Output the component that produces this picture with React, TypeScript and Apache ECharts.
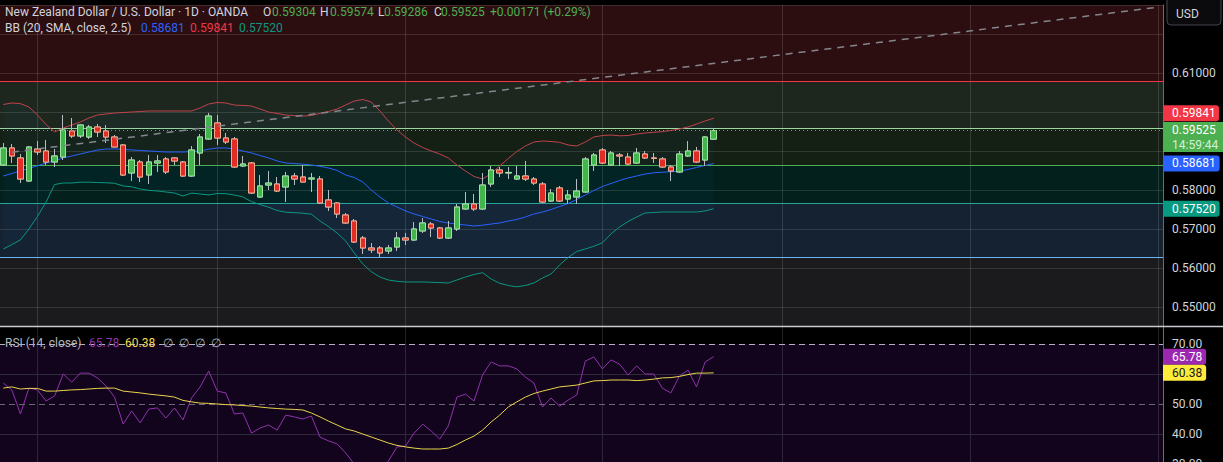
import React, { useEffect, useRef } from 'react';
import * as echarts from 'echarts';

const FONT = 'Roboto, "Liberation Sans", sans-serif';

// ---------- x slots (84 traded days + empty future space) ----------
const SLOT_COUNT = 136;
const categories: string[] = Array.from({ length: SLOT_COUNT }, (_, i) => `D${i + 1}`);
const monthLineDays = ['D5', 'D26', 'D48', 'D71', 'D92', 'D114', 'D136'];

// ---------- candles ----------
const candleOpen = [
  0.58641, 0.59077, 0.58821, 0.58231, 0.59051, 0.59000, 0.58718, 0.58846, 0.59513, 0.59385,
  0.59359, 0.59615, 0.59513, 0.59359, 0.59154, 0.58436, 0.58718, 0.58385, 0.58692, 0.58795,
  0.58821, 0.58718, 0.58359, 0.58949, 0.59308, 0.59718, 0.59333, 0.59308, 0.58615, 0.58692,
  0.57821, 0.58128, 0.58154, 0.58077, 0.58359, 0.58333, 0.58282, 0.58282, 0.57744, 0.57667,
  0.57359, 0.57205, 0.56769, 0.56513, 0.56513, 0.56436, 0.56538, 0.56769, 0.56718, 0.56949,
  0.57128, 0.57026, 0.56769, 0.57000, 0.57513, 0.57641, 0.57513, 0.58154, 0.58513, 0.58436,
  0.58282, 0.58359, 0.58282, 0.58154, 0.57718, 0.58051, 0.57769, 0.57821, 0.57949, 0.58641,
  0.59026, 0.58641, 0.58897, 0.58846, 0.58692, 0.58923, 0.58821, 0.58795, 0.58590, 0.58462,
  0.58872, 0.59000, 0.58769, 0.59304,
];
const candleClose = [
  0.59077, 0.58872, 0.58282, 0.59103, 0.58974, 0.58718, 0.58872, 0.59538, 0.59385, 0.59667,
  0.59615, 0.59487, 0.59359, 0.59103, 0.58385, 0.58769, 0.58333, 0.58718, 0.58744, 0.58462,
  0.58744, 0.58359, 0.59026, 0.59359, 0.59897, 0.59333, 0.59231, 0.58590, 0.58667, 0.57923,
  0.58103, 0.58179, 0.57974, 0.58359, 0.58282, 0.58205, 0.58308, 0.57667, 0.57564, 0.57385,
  0.57154, 0.56667, 0.56513, 0.56462, 0.56385, 0.56513, 0.56769, 0.56718, 0.57000, 0.57154,
  0.57026, 0.56769, 0.57026, 0.57564, 0.57641, 0.57513, 0.58128, 0.58513, 0.58436, 0.58450,
  0.58359, 0.58282, 0.58179, 0.57692, 0.57923, 0.57718, 0.57872, 0.57974, 0.58795, 0.58897,
  0.58692, 0.58949, 0.58872, 0.58667, 0.58949, 0.58821, 0.58810, 0.58590, 0.58487, 0.58923,
  0.59000, 0.58718, 0.59359, 0.59525,
];
const candleLow = [
  0.58615, 0.58692, 0.58179, 0.58205, 0.58897, 0.58641, 0.58590, 0.58769, 0.59333, 0.59333,
  0.59308, 0.59359, 0.59205, 0.59103, 0.58359, 0.58231, 0.58205, 0.58154, 0.58462, 0.58410,
  0.58641, 0.58333, 0.58333, 0.58641, 0.59282, 0.59154, 0.59179, 0.58564, 0.58590, 0.57897,
  0.57795, 0.58000, 0.57949, 0.57692, 0.58128, 0.58205, 0.57949, 0.57641, 0.57462, 0.57282,
  0.57128, 0.56641, 0.56359, 0.56385, 0.56282, 0.56359, 0.56436, 0.56590, 0.56692, 0.56897,
  0.56795, 0.56744, 0.56744, 0.56949, 0.57487, 0.57462, 0.57487, 0.58077, 0.58333, 0.58282,
  0.58256, 0.58231, 0.58128, 0.57667, 0.57692, 0.57692, 0.57641, 0.57641, 0.57923, 0.58487,
  0.58667, 0.58615, 0.58615, 0.58641, 0.58667, 0.58795, 0.58692, 0.58564, 0.58231, 0.58436,
  0.58846, 0.58692, 0.58615, 0.59286,
];
const candleHigh = [
  0.59205, 0.59179, 0.58923, 0.59128, 0.59256, 0.59282, 0.59051, 0.59923, 0.59846, 0.59680,
  0.59667, 0.59692, 0.59667, 0.59410, 0.59179, 0.58846, 0.58769, 0.58897, 0.58897, 0.58846,
  0.58846, 0.58744, 0.59128, 0.59436, 0.59974, 0.59923, 0.59462, 0.59359, 0.58872, 0.58718,
  0.58385, 0.58487, 0.58333, 0.58462, 0.58436, 0.58641, 0.58436, 0.58359, 0.58000, 0.57692,
  0.57410, 0.57256, 0.56821, 0.56641, 0.56564, 0.56590, 0.56923, 0.56897, 0.57179, 0.57282,
  0.57179, 0.57051, 0.57205, 0.57641, 0.57949, 0.57897, 0.58436, 0.58615, 0.58590, 0.58590,
  0.58615, 0.58744, 0.58333, 0.58205, 0.58026, 0.58103, 0.58000, 0.58282, 0.58846, 0.58949,
  0.59077, 0.59000, 0.58949, 0.58949, 0.59077, 0.59000, 0.58949, 0.58846, 0.58641, 0.59000,
  0.59256, 0.59103, 0.59385, 0.59574,
];

// ---------- Bollinger bands ----------
const bbUpper = [
  0.60192, 0.60231, 0.60215, 0.60128, 0.59923, 0.59679, 0.59487, 0.59590, 0.59667, 0.59744,
  0.59846, 0.59923, 0.59949, 0.59974, 0.59987, 0.60000, 0.60013, 0.60026, 0.60026, 0.60026,
  0.60026, 0.60026, 0.60026, 0.60103, 0.60205, 0.60244, 0.60231, 0.60179, 0.60167, 0.60154,
  0.60077, 0.60000, 0.59962, 0.59923, 0.59910, 0.59897, 0.59910, 0.59962, 0.60013, 0.60077,
  0.60179, 0.60282, 0.60321, 0.60256, 0.60026, 0.59769, 0.59538, 0.59359, 0.59205, 0.59090,
  0.59000, 0.58923, 0.58821, 0.58641, 0.58487, 0.58346, 0.58282, 0.58423, 0.58615, 0.58808,
  0.58987, 0.59128, 0.59231, 0.59256, 0.59244, 0.59223, 0.59154, 0.59128, 0.59231, 0.59359,
  0.59397, 0.59410, 0.59390, 0.59397, 0.59436, 0.59462, 0.59479, 0.59497, 0.59526, 0.59564,
  0.59615, 0.59692, 0.59769, 0.59841,
];
const bbBasis = [
  0.58359, 0.58423, 0.58487, 0.58551, 0.58623, 0.58692, 0.58754, 0.58821, 0.58872, 0.58923,
  0.58974, 0.59026, 0.59051, 0.59051, 0.59044, 0.59026, 0.59015, 0.59000, 0.58987, 0.58974,
  0.58974, 0.58974, 0.58987, 0.59000, 0.59046, 0.59077, 0.59077, 0.59051, 0.59000, 0.58949,
  0.58885, 0.58821, 0.58744, 0.58692, 0.58677, 0.58662, 0.58641, 0.58608, 0.58564, 0.58500,
  0.58385, 0.58321, 0.58205, 0.58000, 0.57821, 0.57667, 0.57564, 0.57462, 0.57385, 0.57321,
  0.57256, 0.57192, 0.57154, 0.57128, 0.57103, 0.57077, 0.57097, 0.57128, 0.57154, 0.57205,
  0.57244, 0.57308, 0.57385, 0.57436, 0.57500, 0.57577, 0.57654, 0.57756, 0.57872, 0.57987,
  0.58090, 0.58167, 0.58244, 0.58308, 0.58359, 0.58410, 0.58441, 0.58456, 0.58469, 0.58482,
  0.58526, 0.58577, 0.58628, 0.58681,
];
const bbLower = [
  0.56487, 0.56600, 0.56718, 0.57000, 0.57321, 0.57692, 0.58141, 0.58179, 0.58179, 0.58200,
  0.58200, 0.58192, 0.58185, 0.58172, 0.58103, 0.58082, 0.58026, 0.57990, 0.57974, 0.57949,
  0.57923, 0.57846, 0.57921, 0.57897, 0.57874, 0.57910, 0.57905, 0.57872, 0.57821, 0.57703,
  0.57626, 0.57559, 0.57474, 0.57431, 0.57418, 0.57405, 0.57379, 0.57205, 0.57064, 0.56897,
  0.56692, 0.56385, 0.56103, 0.55905, 0.55769, 0.55692, 0.55659, 0.55641, 0.55641, 0.55641,
  0.55633, 0.55626, 0.55615, 0.55692, 0.55769, 0.55833, 0.55879, 0.55718, 0.55608, 0.55551,
  0.55518, 0.55551, 0.55615, 0.55744, 0.55846, 0.56077, 0.56269, 0.56423, 0.56487, 0.56556,
  0.56646, 0.56872, 0.57051, 0.57192, 0.57308, 0.57410, 0.57423, 0.57436, 0.57436, 0.57436,
  0.57436, 0.57436, 0.57462, 0.57520,
];

// ---------- RSI ----------
const rsiValues = [
  57.0, 54.7, 46.7, 55.3, 54.7, 51.0, 52.7, 60.0, 57.3, 60.3,
  60.3, 58.7, 56.0, 52.3, 43.3, 47.7, 43.7, 48.3, 48.7, 45.3,
  48.7, 44.7, 52.0, 55.7, 61.0, 54.3, 53.7, 46.7, 47.0, 40.3,
  42.0, 43.0, 41.3, 46.3, 45.7, 45.0, 46.0, 39.0, 37.7, 36.7,
  33.7, 30.0, 27.5, 26.0, 27.0, 31.0, 35.7, 36.0, 40.3, 43.3,
  41.0, 38.3, 42.7, 52.3, 53.3, 51.0, 59.7, 64.0, 62.7, 62.7,
  61.7, 59.0, 57.0, 49.0, 52.0, 49.3, 51.3, 53.0, 64.3, 65.7,
  61.7, 64.7, 63.3, 59.7, 62.7, 60.0, 60.0, 55.3, 53.7, 59.3,
  61.3, 55.7, 64.0, 65.78,
];
const rsiMa = [
  55.3, 55.7, 55.0, 55.2, 55.2, 54.3, 54.3, 54.5, 54.7, 54.8,
  55.0, 55.2, 55.3, 55.3, 54.3, 54.0, 53.7, 53.3, 53.0, 52.7,
  52.3, 51.2, 50.7, 50.3, 50.2, 50.0, 49.8, 49.7, 49.5, 49.3,
  49.0, 48.7, 48.5, 48.3, 48.2, 48.0, 47.0, 45.7, 44.3, 43.0,
  41.7, 41.0, 40.0, 39.0, 38.0, 37.0, 36.2, 35.7, 35.3, 35.0,
  35.0, 35.0, 35.3, 36.5, 38.0, 39.3, 41.3, 44.0, 46.3, 49.0,
  50.7, 52.3, 53.5, 54.3, 55.0, 55.7, 56.0, 56.3, 57.0, 57.7,
  57.8, 58.0, 58.0, 58.0, 57.8, 58.0, 58.3, 58.7, 58.8, 59.2,
  59.8, 60.3, 60.3, 60.38,
];

// ---------- levels & axis ranges ----------
const PRICE_MIN = 0.545128;
const PRICE_MAX = 0.627436;
const RSI_MIN = 20;
const RSI_MAX = 75.667;
const bandLevels = [0.60795, 0.5959, 0.58641, 0.57667, 0.56282];
const bandLineColors = ['#f23645', '#9ed8a0', '#4caf50', '#26a69a', '#6db4f5'];
const bandFillColors = ['#2c0e11', '#1d271d', '#142014', '#03201c', '#152231', '#1b1b1d'];
const trendStart = ['D2', 0.58969];
const trendEnd = ['D136', 0.62692];
const rsiSolidLevels = [60, 40, 30];
const rsiDashedLevels = [70, 50];
// axis labels hidden behind the price tags in the reference
const hiddenPriceLabels = ['0.60000', '0.59000'];
const hiddenRsiLabels = ['60.00'];

// ---------- legend / tag texts ----------
const lastPrice = 0.59525;
const countdown = '14:59:44';
const title = 'New Zealand Dollar / U.S. Dollar · 1D · OANDA';
const ohlcLetters = ['O', 'H', 'L', 'C'];
const ohlcValues = ['0.59304', '0.59574', '0.59286', '0.59525'];
const changeText = '+0.00171 (+0.29%)';
const bbTitle = 'BB (20, SMA, close, 2.5)';
const bbValues = ['0.58681', '0.59841', '0.57520'];
const rsiTitle = 'RSI (14, close)';
const rsiLegendValues = ['65.78', '60.38'];

const GRID_LINE = 'rgba(255,255,255,0.12)';
const TEXT = '#d1d4dc';
const CLEAR = 'rgba(0,0,0,0)';

function tagLabel(text: string, bg: string, fg = '#ffffff') {
  return {
    show: true,
    position: 'end',
    distance: 0,
    formatter: text,
    color: fg,
    backgroundColor: bg,
    fontSize: 12,
    fontFamily: FONT,
    lineHeight: 14,
    padding: [1, 4, 1, 9],
    borderRadius: [0, 3, 3, 0],
  };
}

// tag pushed upward (TradingView moves overlapping price tags apart)
function raisedTagLabel(text: string, bg: string, raise: number) {
  return {
    show: true,
    position: 'end',
    distance: 0,
    formatter: `{a|${text}}\n{s|}`,
    rich: {
      a: {
        color: '#ffffff',
        backgroundColor: bg,
        fontSize: 12,
        fontFamily: FONT,
        lineHeight: 16,
        height: 16,
        width: 47,
        padding: [0, 0, 0, 9],
        borderRadius: [0, 3, 3, 0],
      },
      s: { height: raise * 2, lineHeight: raise * 2, width: 1 },
    },
  };
}

function buildOption() {
  const candleRows = candleOpen.map((o, i) => [o, candleClose[i], candleLow[i], candleHigh[i]]);
  const bodyRows = candleOpen.map((o, i) => [
    o,
    candleClose[i],
    Math.min(o, candleClose[i]),
    Math.max(o, candleClose[i]),
  ]);
  const bbWidth = bbUpper.map((u, i) => u - bbLower[i]);

  const bounds = [PRICE_MAX, ...bandLevels, PRICE_MIN];
  const bandAreas = bandFillColors.map((c, i) => [
    { yAxis: bounds[i], itemStyle: { color: c } },
    { yAxis: bounds[i + 1] },
  ]);
  const bandLines = bandLevels.map((v, i) => ({
    yAxis: v,
    lineStyle: { color: bandLineColors[i], width: 1, type: 'solid' },
  }));
  const vLines = (color: string) =>
    monthLineDays.map((d) => ({ xAxis: d, lineStyle: { color, width: 1, type: 'solid' } }));

  const hdrY1 = 11.5;
  const hdrY2 = 28;
  const txt = (text: string, x: number, y: number, fill: string, size = 12) => ({
    type: 'text',
    x,
    y,
    z: 100,
    silent: true,
    style: { text, fill, font: `${size}px ${FONT}`, align: 'left', verticalAlign: 'middle' },
  });
  const ohlcX = [263, 320, 378, 434];
  const ohlcValX = [272, 330, 384, 441];
  const bbValX = [141, 190, 239];
  const bbColors = ['#2962ff', '#f23645', '#089981'];

  const graphics: any[] = [
    txt(title, 5, hdrY1, TEXT),
    ...ohlcLetters.map((l, i) => txt(l, ohlcX[i], hdrY1, TEXT)),
    ...ohlcValues.map((v, i) => txt(v, ohlcValX[i], hdrY1, '#4caf50')),
    txt(changeText, 490, hdrY1, '#4caf50'),
    txt(bbTitle, 5, hdrY2, TEXT),
    ...bbValues.map((v, i) => txt(v, bbValX[i], hdrY2, bbColors[i])),
    txt(rsiTitle, 5, 343, '#b2b5be'),
    txt(rsiLegendValues[0], 89, 343, '#8e35a8'),
    txt(rsiLegendValues[1], 125, 343, '#f2d94e'),
    ...[163, 179, 195, 211].map((x) => txt('∅', x, 343, '#b2b5be')),
    {
      type: 'line',
      z: 90,
      silent: true,
      shape: { x1: 0, y1: 326.5, x2: 1223, y2: 326.5 },
      style: { stroke: '#c9cbd1', lineWidth: 1.5 },
    },
    {
      type: 'rect',
      z: 100,
      silent: true,
      shape: { x: 1167, y: -5, width: 54, height: 30, r: 4 },
      style: { fill: '#0b0b0d', stroke: '#44464f', lineWidth: 1 },
    },
    txt('USD', 1176, 13.5, TEXT),
  ];

  return {
    animation: false,
    backgroundColor: '#000000',
    textStyle: { fontFamily: FONT },
    grid: [
      { left: -1, right: 60, top: 5, height: 321, outerBoundsMode: 'none', containLabel: false },
      { left: -1, right: 60, top: 327, height: 167, outerBoundsMode: 'none', containLabel: false },
    ],
    xAxis: [
      { type: 'category', gridIndex: 0, data: categories, show: false, boundaryGap: true },
      { type: 'category', gridIndex: 1, data: categories, show: false, boundaryGap: true },
    ],
    yAxis: [
      {
        type: 'value',
        gridIndex: 0,
        position: 'right',
        min: PRICE_MIN,
        max: PRICE_MAX,
        splitNumber: 8,
        minInterval: 0.01,
        maxInterval: 0.01,
        axisLine: { show: true, lineStyle: { color: '#6a6d78', width: 1 } },
        axisTick: { show: false },
        axisLabel: {
          color: TEXT,
          fontSize: 12,
          fontFamily: FONT,
          margin: 9,
          showMinLabel: false,
          showMaxLabel: false,
          formatter: (v: number) => {
            const s = v.toFixed(5);
            if (v < 0.5495 || v > 0.6105 || hiddenPriceLabels.includes(s)) return '';
            return s;
          },
        },
        splitLine: { show: true, lineStyle: { color: GRID_LINE, width: 1 } },
      },
      {
        type: 'value',
        gridIndex: 1,
        position: 'right',
        min: RSI_MIN,
        max: RSI_MAX,
        splitNumber: 5,
        minInterval: 10,
        maxInterval: 10,
        axisLine: { show: true, lineStyle: { color: '#6a6d78', width: 1 } },
        axisTick: { show: false },
        axisLabel: {
          color: TEXT,
          fontSize: 12,
          fontFamily: FONT,
          margin: 9,
          showMinLabel: false,
          showMaxLabel: false,
          formatter: (v: number) => {
            const s = v.toFixed(2);
            if (v < 25 || v > 70.5 || hiddenRsiLabels.includes(s)) return '';
            return s;
          },
        },
        splitLine: { show: false },
      },
    ],
    series: [
      {
        name: 'bands',
        type: 'line',
        xAxisIndex: 0,
        yAxisIndex: 0,
        data: [],
        z: -2,
        silent: true,
        markArea: { silent: true, z: -2, precision: 6, data: bandAreas },
        markLine: {
          silent: true,
          z: -1,
          precision: 6,
          symbol: ['none', 'none'],
          label: { show: false },
          lineStyle: { type: 'solid' },
          data: [...vLines('rgba(255,255,255,0.13)'), ...bandLines],
        },
      },
      {
        name: 'bbBase',
        type: 'line',
        data: bbLower,
        stack: 'bb',
        symbol: 'none',
        silent: true,
        lineStyle: { opacity: 0 },
        z: 1,
      },
      {
        name: 'bbFill',
        type: 'line',
        data: bbWidth,
        stack: 'bb',
        symbol: 'none',
        silent: true,
        lineStyle: { opacity: 0 },
        areaStyle: { color: 'rgba(33,150,243,0.06)' },
        z: 1,
      },
      { name: 'Upper', type: 'line', data: bbUpper, symbol: 'none', lineStyle: { color: '#c2424d', width: 1 }, z: 2 },
      { name: 'Basis', type: 'line', data: bbBasis, symbol: 'none', lineStyle: { color: '#2962ff', width: 1 }, z: 2 },
      { name: 'Lower', type: 'line', data: bbLower, symbol: 'none', lineStyle: { color: '#0b9783', width: 1 }, z: 2 },
      {
        name: 'wicks',
        type: 'candlestick',
        data: candleRows,
        barWidth: 6,
        z: 3,
        itemStyle: {
          color: '#43b54d',
          color0: '#e12d26',
          borderColor: '#b9bcc2',
          borderColor0: '#b9bcc2',
          borderWidth: 1,
        },
      },
      {
        name: 'bodies',
        type: 'candlestick',
        data: bodyRows,
        barWidth: 6,
        z: 4,
        itemStyle: {
          color: '#43b54d',
          color0: '#e12d26',
          borderColor: '#9fe3a3',
          borderColor0: '#f7a98c',
          borderWidth: 1,
        },
      },
      {
        name: 'tags',
        type: 'line',
        data: [],
        z: 10,
        silent: true,
        markLine: {
          silent: true,
          z: 10,
          precision: 6,
          symbol: ['none', 'none'],
          data: [
            [
              { coord: trendStart, lineStyle: { color: '#85858d', width: 1.5, type: [7, 6] }, label: { show: false } },
              { coord: trendEnd },
            ],
            {
              yAxis: lastPrice,
              lineStyle: { color: '#4caf50', width: 1, type: [1, 3] },
              label: {
                show: true,
                position: 'end',
                distance: 0,
                formatter: `{s|}\n{a|${lastPrice.toFixed(5)}}\n{b|${countdown}}`,
                rich: {
                  s: { height: 13, lineHeight: 13, width: 1 },
                  a: {
                    color: '#ffffff',
                    backgroundColor: '#4caf50',
                    fontSize: 12,
                    fontFamily: FONT,
                    lineHeight: 15,
                    height: 15,
                    width: 51,
                    padding: [0, 0, 0, 9],
                  },
                  b: {
                    color: '#d6efd7',
                    backgroundColor: '#4caf50',
                    fontSize: 12,
                    fontFamily: FONT,
                    lineHeight: 15,
                    height: 15,
                    width: 51,
                    padding: [0, 0, 0, 9],
                  },
                },
              },
            },
            { yAxis: bbUpper[bbUpper.length - 1], lineStyle: { color: CLEAR, width: 0 }, label: raisedTagLabel(bbValues[1], '#f23645', 5) },
            { yAxis: bbBasis[bbBasis.length - 1], lineStyle: { color: CLEAR, width: 0 }, label: tagLabel(bbValues[0], '#2962ff') },
            { yAxis: bbLower[bbLower.length - 1], lineStyle: { color: CLEAR, width: 0 }, label: tagLabel(bbValues[2], '#089981') },
          ],
        },
      },
      {
        name: 'rsiBands',
        type: 'line',
        xAxisIndex: 1,
        yAxisIndex: 1,
        data: [],
        z: -2,
        silent: true,
        markArea: {
          silent: true,
          z: -2,
          precision: 4,
          data: [[{ yAxis: 30, itemStyle: { color: '#11041c' } }, { yAxis: 70 }]],
        },
        markLine: {
          silent: true,
          z: -1,
          precision: 4,
          symbol: ['none', 'none'],
          label: { show: false },
          data: [
            ...vLines('rgba(255,255,255,0.13)'),
            ...rsiSolidLevels.map((v) => ({ yAxis: v, lineStyle: { color: '#2f2a3a', width: 1, type: 'solid' } })),
            { yAxis: rsiDashedLevels[0], lineStyle: { color: '#b4b3bd', width: 1, type: [6, 4] } },
            { yAxis: rsiDashedLevels[1], lineStyle: { color: '#6c6577', width: 1, type: [6, 4] } },
          ],
        },
      },
      {
        name: 'RSI',
        type: 'line',
        xAxisIndex: 1,
        yAxisIndex: 1,
        data: rsiValues,
        symbol: 'none',
        lineStyle: { color: '#9133ad', width: 1 },
        z: 3,
      },
      {
        name: 'RSI MA',
        type: 'line',
        xAxisIndex: 1,
        yAxisIndex: 1,
        data: rsiMa,
        symbol: 'none',
        lineStyle: { color: '#ebd54c', width: 1 },
        z: 4,
      },
      {
        name: 'rsiTags',
        type: 'line',
        xAxisIndex: 1,
        yAxisIndex: 1,
        data: [],
        z: 10,
        silent: true,
        markLine: {
          silent: true,
          z: 10,
          precision: 4,
          symbol: ['none', 'none'],
          data: [
            { yAxis: rsiValues[rsiValues.length - 1], lineStyle: { color: CLEAR, width: 0 }, label: tagLabel(rsiLegendValues[0], '#9c27b0') },
            { yAxis: rsiMa[rsiMa.length - 1], lineStyle: { color: CLEAR, width: 0 }, label: tagLabel(rsiLegendValues[1], '#ffeb3b', '#131722') },
          ],
        },
      },
    ],
    graphic: { elements: graphics },
  };
}

export default function App() {
  const ref = useRef<HTMLDivElement>(null);
  useEffect(() => {
    if (!ref.current) return;
    const chart = echarts.init(ref.current, null, { renderer: 'svg', width: 1223, height: 462 });
    chart.setOption(buildOption() as any);
    return () => {
      chart.dispose();
    };
  }, []);
  return (
    <div
      ref={ref}
      style={{ position: 'fixed', left: 0, top: 0, width: 1223, height: 462, background: '#000' }}
    />
  );
}
